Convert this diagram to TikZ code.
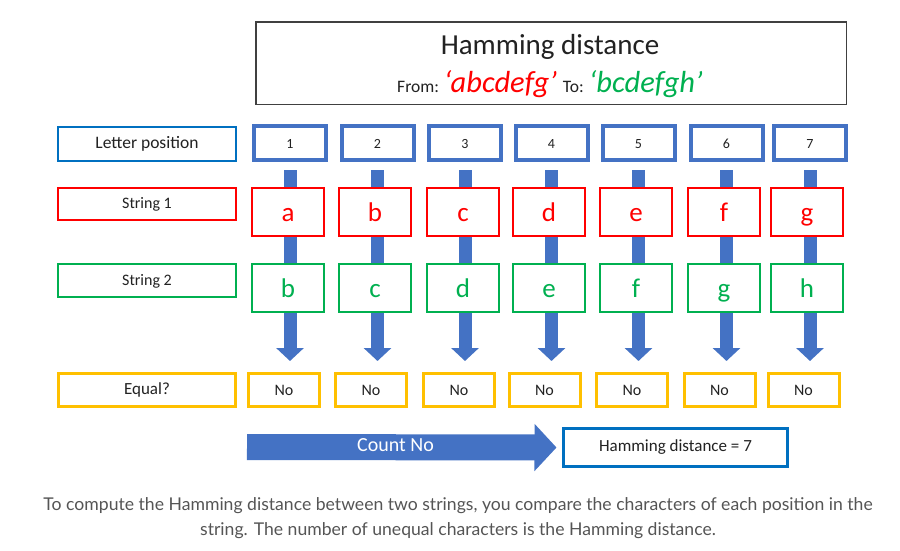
\documentclass[tikz,border=0pt]{standalone}
\usepackage{fontspec}
\setmainfont{Carlito}
\newfontfamily\bodyfont{Lato}
\usetikzlibrary{arrows.meta,calc}
\definecolor{posblue}{HTML}{4472C4}
\definecolor{lblblue}{HTML}{0070C0}
\definecolor{sred}{HTML}{FF0000}
\definecolor{sgreen}{HTML}{00B050}
\definecolor{syellow}{HTML}{FFC000}
\definecolor{bodygray}{HTML}{555555}
\definecolor{titlegray}{HTML}{404040}
\definecolor{inkblack}{HTML}{222222}
\pgfdeclarelayer{bg}
\pgfdeclarelayer{paper}
\pgfsetlayers{paper,bg,main}
\begin{document}
\begin{tikzpicture}[x=1pt,y=-1pt,
  every node/.style={inner sep=0pt, outer sep=0pt, text=inkblack},
  posbox/.style={draw=posblue, line width=4pt, fill=white, minimum width=72pt, minimum height=34pt, text height=10pt, text depth=0pt, font=\fontsize{14}{16}\selectfont},
  s1box/.style={draw=sred, line width=2pt, fill=white, minimum width=72pt, minimum height=48pt, text=sred, text height=20pt, text depth=2pt, font=\fontsize{27}{30}\selectfont},
  s2box/.style={s1box, draw=sgreen, text=sgreen},
  eqbox/.style={draw=syellow, line width=3pt, fill=white, minimum width=71pt, minimum height=33pt, text height=11pt, text depth=0pt, font=\fontsize{16}{18}\selectfont},
  lbl/.style={line width=2pt, fill=white, minimum width=178pt, text height=11pt, text depth=2pt, font=\fontsize{16}{18}\selectfont},
  downarrow/.style={draw=posblue, line width=13pt, -{Triangle[length=13pt,width=27pt]}},
  countarrow/.style={draw=posblue, line width=26pt, -{Triangle[length=22pt,width=46pt]}},
]
\useasboundingbox (0,0) rectangle (900,550);
\begin{pgfonlayer}{paper}
\fill[white] (0,0) rectangle (900,550);
\end{pgfonlayer}

% title
\node[draw=titlegray, line width=1.5pt, minimum width=590.5pt, minimum height=82.5pt] (title) at (551,63) {};
\node[font=\fontsize{29}{32}\selectfont] (ttl) at (550,47) {Hamming distance};
\node[font=\fontsize{17.5}{20}\selectfont] (from) at (550,84) {From:\hspace{5pt}{\fontsize{30.5}{32}\selectfont\itshape\color{sred}‘abcdefg’}\hspace{6pt}To:\hspace{5pt}{\fontsize{30.5}{32}\selectfont\itshape\color{sgreen}‘bcdefgh’}};

% left labels
\node[lbl, draw=lblblue, minimum height=34pt, font=\fontsize{17.5}{20}\selectfont] (lp) at (147,144) {Letter position};
\node[lbl, draw=sred, minimum height=32pt] (l1) at (147,204) {String 1};
\node[lbl, draw=sgreen, minimum height=33pt] (l2) at (147,280.5) {String 2};
\node[lbl, draw=syellow, line width=3pt, minimum width=177pt, minimum height=33pt, font=\fontsize{17}{20}\selectfont] (leq) at (147,390) {Equal?};

% columns
\foreach \i/\px/\sx/\ex/\a/\b in {1/290/288/284/a/b, 2/377.5/375/371/b/c, 3/465/463/459/c/d, 4/551.5/549/544.5/d/e, 5/638.5/636/632/e/f, 6/726.5/724/719.5/f/g, 7/810/807/803.5/g/h}{
  \node[posbox] (p\i) at (\px,143) {\i};
  \node[s1box] (s\i) at (\sx,212) {\a};
  \node[s2box] (t\i) at (\sx,288) {\b};
  \node[eqbox] (e\i) at (\ex,389.5) {No};
  \begin{pgfonlayer}{bg}
    \draw[downarrow] ([yshift=-10pt]p\i.south) -- ($(p\i.south |- e\i.north)+(0,-12)$);
  \end{pgfonlayer}
}

% count
\node[draw=lblblue, line width=3pt, minimum width=224pt, minimum height=38pt, font=\fontsize{17}{20}\selectfont] (hd) at (675.5,447.5) {Hamming distance = 7};
\coordinate (cstart) at (247,447);
\draw[countarrow] (cstart) -- ([xshift=-7pt]hd.west) node[pos=0.48, yshift=2pt, text=white, font=\fontsize{20}{22}\selectfont] (cnt) {Count No};

% caption
\node[font=\bodyfont\fontsize{17.6}{25}\selectfont, text=bodygray, align=center] (cap) at (458,518.5) {To compute the Hamming distance between two strings, you compare the characters of each position in the\\string. The number of unequal characters is the Hamming distance.};
\end{tikzpicture}
\end{document}
